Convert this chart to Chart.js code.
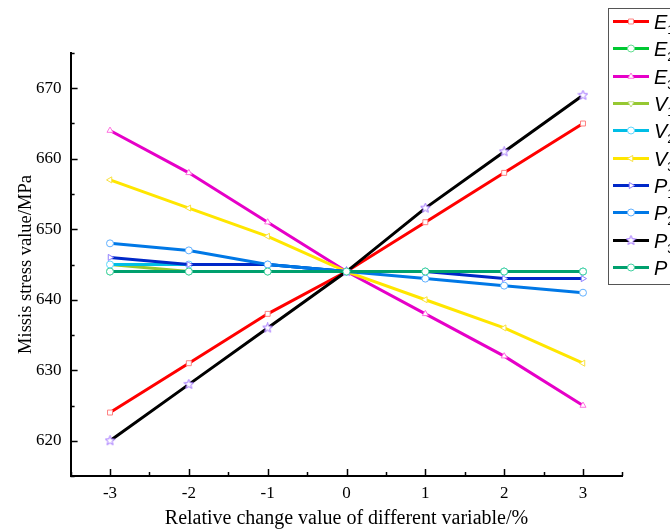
<!DOCTYPE html>
<html>
<head>
<meta charset="utf-8">
<script src="https://cdn.jsdelivr.net/npm/chart.js@4.4.1/dist/chart.umd.min.js"></script>
<style>
    html, body { margin: 0; padding: 0; background: #fff; }
    #wrap { width: 670px; height: 532px; }
</style>
</head>
<body>
<div id="wrap"><canvas id="canvasChart" width="670" height="532"></canvas></div>
<script>
const X_VALUES = [-3, -2, -1, 0, 1, 2, 3];

const E1 = [624, 631, 638, 644, 651, 658, 665];
const E2 = [644, 644, 644, 644, 644, 644, 644];
const E3 = [664, 658, 651, 644, 638, 632, 625];
const V1 = [645, 644, 644, 644, 644, 644, 644];
const V2 = [645, 645, 645, 644, 644, 644, 644];
const V3 = [657, 653, 649, 644, 640, 636, 631];
const P1 = [646, 645, 645, 644, 644, 643, 643];
const P2 = [648, 647, 645, 644, 643, 642, 641];
const P3 = [620, 628, 636, 644, 653, 661, 669];
const P = [644, 644, 644, 644, 644, 644, 644];

const SERIES = [E1, E2, E3, V1, V2, V3, P1, P2, P3, P];
const LABEL_MAIN = ['E', 'E', 'E', 'V', 'V', 'V', 'P', 'P', 'P', 'P'];
const LABEL_SUB = ['1', '2', '3', '1', '2', '3', '1', '2', '3', ''];

const X_TICKS = [-3, -2, -1, 0, 1, 2, 3];
const X_MINOR = [-3.5, -2.5, -1.5, -0.5, 0.5, 1.5, 2.5, 3.5];
const Y_TICKS = [620, 630, 640, 650, 660, 670];
const Y_MINOR = [615, 625, 635, 645, 655, 665, 675];

const LINE_COLORS = ['#ff0000', '#00c832', '#e600c8', '#96c832', '#00bee6', '#ffe600', '#0028c8', '#0078e6', '#000000', '#00a06e'];
const MARKER_COLORS = ['#ff8080', '#60e090', '#ff70e0', '#c0e080', '#60d8ff', '#f8e040', '#9080ff', '#60b0ff', '#a070ff', '#40d0a0'];

// pentagram marker for P3
const estrela = (cor) => {
    let c = document.createElement('canvas');
    c.width = 11;
    c.height = 11;
    let g = c.getContext('2d');
    g.beginPath();
    for (let i = 0; i < 10; i++) {
        let r = i % 2 === 0 ? 5 : 2.2;
        let a = -Math.PI / 2 + i * Math.PI / 5;
        let px = 5.5 + r * Math.cos(a);
        let py = 5.5 + r * Math.sin(a);
        if (i === 0) g.moveTo(px, py); else g.lineTo(px, py);
    }
    g.closePath();
    g.fillStyle = '#fff';
    g.fill();
    g.strokeStyle = cor;
    g.lineWidth = 1;
    g.stroke();
    return c;
};

const STAR = estrela(MARKER_COLORS[8]);
const POINT_STYLES = ['rect', 'circle', 'triangle', 'triangle', 'circle', 'triangle', 'triangle', 'circle', STAR, 'circle'];
const POINT_ROT = [0, 0, 0, 180, 0, -90, 90, 0, 0, 0];

const datasets = SERIES.map((serie, i) => ({
    label: LABEL_MAIN[i] + LABEL_SUB[i],
    data: X_VALUES.map((x, j) => ({ x, y: serie[j] })),
    borderColor: LINE_COLORS[i],
    borderWidth: 3,
    pointStyle: POINT_STYLES[i],
    rotation: POINT_ROT[i],
    pointRadius: 3.5,
    pointBorderWidth: 1,
    pointBorderColor: MARKER_COLORS[i],
    pointBackgroundColor: '#fff',
    order: SERIES.length - i,
    tension: 0
}));

// ticks pointing into the plot, like the original figure
const tracinhos = {
    id: 'tracinhos',
    afterDraw(chart) {
        const { ctx, scales: { x, y } } = chart;
        ctx.save();
        ctx.strokeStyle = '#000';
        ctx.lineWidth = 1.5;
        ctx.beginPath();
        X_TICKS.forEach(v => {
            let px = Math.round(x.getPixelForValue(v)) + 0.5;
            ctx.moveTo(px, y.bottom);
            ctx.lineTo(px, y.bottom - 7);
        });
        X_MINOR.forEach(v => {
            let px = Math.round(x.getPixelForValue(v)) + 0.5;
            ctx.moveTo(px, y.bottom);
            ctx.lineTo(px, y.bottom - 4);
        });
        Y_TICKS.forEach(v => {
            let py = Math.round(y.getPixelForValue(v)) + 0.5;
            ctx.moveTo(x.left, py);
            ctx.lineTo(x.left + 7, py);
        });
        Y_MINOR.forEach(v => {
            let py = Math.round(y.getPixelForValue(v)) + 0.5;
            ctx.moveTo(x.left, py);
            ctx.lineTo(x.left + 4, py);
        });
        ctx.stroke();
        ctx.restore();
    }
};

const legenda = {
    id: 'legenda',
    afterDraw(chart) {
        const ctx = chart.ctx;
        ctx.save();
        ctx.fillStyle = '#fff';
        ctx.fillRect(608, 8, 70, 276);
        ctx.strokeStyle = '#555';
        ctx.lineWidth = 1;
        ctx.strokeRect(608.5, 8.5, 70, 276);
        for (let i = 0; i < SERIES.length; i++) {
            let ly = Math.round(21 + i * 27.33) + 0.5;
            ctx.strokeStyle = LINE_COLORS[i];
            ctx.lineWidth = 3;
            ctx.beginPath();
            ctx.moveTo(613, ly);
            ctx.lineTo(649, ly);
            ctx.stroke();
            ctx.strokeStyle = MARKER_COLORS[i];
            ctx.fillStyle = '#fff';
            ctx.lineWidth = 1;
            Chart.helpers.drawPoint(ctx, {
                pointStyle: POINT_STYLES[i],
                rotation: POINT_ROT[i],
                radius: 3.5,
                borderWidth: 1
            }, 631, ly);
            ctx.fillStyle = '#000';
            ctx.textBaseline = 'alphabetic';
            ctx.font = 'italic 20px "Liberation Sans"';
            ctx.fillText(LABEL_MAIN[i], 654, ly + 7);
            let w = ctx.measureText(LABEL_MAIN[i]).width;
            ctx.font = '13px "Liberation Sans"';
            ctx.fillText(LABEL_SUB[i], 654 + w, ly + 12);
        }
        ctx.restore();
    }
};

const fonteSerif = '"Liberation Serif", "Times New Roman", serif';

try {
    let ctx = document.querySelector('#canvasChart');
    let myChart = new Chart(ctx, {
        type: 'line',
        data: { datasets },
        options: {
            responsive: false,
            animation: false,
            layout: {
                padding: { top: 53, right: 47.6, left: 0, bottom: 0 }
            },
            plugins: {
                legend: { display: false },
                tooltip: { enabled: false }
            },
            scales: {
                x: {
                    type: 'linear',
                    min: -3.5,
                    max: 3.5,
                    afterBuildTicks: axis => { axis.ticks = X_TICKS.map(v => ({ value: v })); },
                    grid: { display: false, drawTicks: false },
                    border: { display: true, color: '#000', width: 2 },
                    ticks: {
                        color: '#000',
                        padding: 7.8,
                        font: { family: fonteSerif, size: 17 },
                        maxRotation: 0
                    },
                    title: {
                        display: true,
                        text: 'Relative change value of different variable/%',
                        color: '#000',
                        font: { family: fonteSerif, size: 20 },
                        padding: { top: -5, bottom: 1 }
                    }
                },
                y: {
                    type: 'linear',
                    min: 615,
                    max: 675,
                    afterBuildTicks: axis => { axis.ticks = Y_TICKS.map(v => ({ value: v })); },
                    grid: { display: false, drawTicks: false },
                    border: { display: true, color: '#000', width: 2 },
                    ticks: {
                        color: '#000',
                        padding: 9,
                        font: { family: fonteSerif, size: 17 }
                    },
                    title: {
                        display: true,
                        text: 'Missis stress value/MPa',
                        color: '#000',
                        font: { family: fonteSerif, size: 18.5 },
                        padding: { top: 14.9, bottom: -10 }
                    }
                }
            }
        },
        plugins: [tracinhos, legenda]
    });
}
catch (exception) {
    document.body.insertAdjacentText('beforeend', 'Erro ao montar o gráfico: ' + exception);
}
</script>
</body>
</html>
